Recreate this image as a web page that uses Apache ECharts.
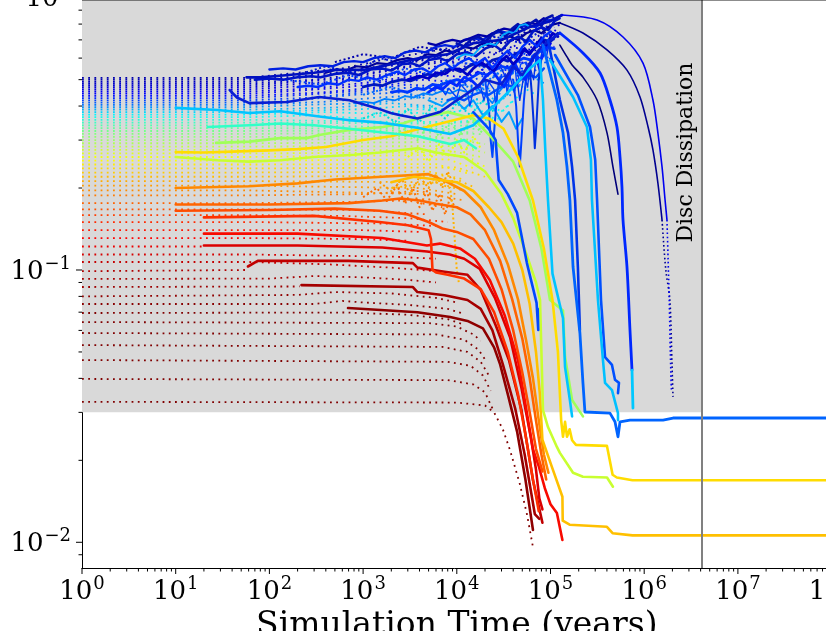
<!DOCTYPE html>
<html>
<head>
<meta charset="utf-8">
<script src="https://cdn.jsdelivr.net/npm/echarts@6.0.0/dist/echarts.min.js"></script>
<style>
html, body { margin: 0; padding: 0; background: #fff; }
#chart { width: 826px; height: 631px; }
</style>
</head>
<body>
<div id="chart"></div>
<script>
// ---- axis / reference values ----
var xMin = 1, xMax = 1e8;
var yMin = 0.008046, yMax = 1;
var discTime = 4.1e6;
var greyFloor = 0.03;
var xMajor = [1, 10, 100, 1e3, 1e4, 1e5, 1e6, 1e7, 1e8];
var yMajor = [0.01, 0.1, 1];
var minorSteps = [2, 3, 4, 5, 6, 7, 8, 9];

// ---- dotted embryo tracks [time, value] ----
var dotLow = [
  [[1,0.0328],[1e4,0.0326],[2e4,0.0318],[2.5e4,0.03],[3.1e4,0.026],[3.7e4,0.0218],[4.7e4,0.0164],[5.6e4,0.0127],[6.5e4,0.0096]],
  [[1,0.0398],[8e3,0.0394],[1.5e4,0.038],[2e4,0.0355],[2.4e4,0.031]],
  [[1,0.0467],[8e3,0.046],[1.4e4,0.0445],[1.9e4,0.041],[2.3e4,0.036]],
  [[1,0.053],[7e3,0.0522],[1.3e4,0.05],[1.8e4,0.046],[2.2e4,0.041]],
  [[1,0.0587],[6e3,0.058],[1.2e4,0.0555],[1.7e4,0.051],[2e4,0.047]],
  [[1,0.0644],[5e3,0.0638],[1e4,0.062],[1.5e4,0.058],[1.8e4,0.055]],
  [[1,0.0695],[650,0.0698],[3e3,0.0685],[8e3,0.066],[1.2e4,0.063]],
  [[1,0.075],[300,0.075],[600,0.077],[1e3,0.076],[3e3,0.0745],[8e3,0.072],[1.2e4,0.069]],
  [[1,0.08],[200,0.081],[500,0.083],[2e3,0.082],[6e3,0.079],[1e4,0.076]],
  [[1,0.0866],[210,0.087]],
  [[1,0.0927],[100,0.093],[300,0.095],[1e3,0.094],[3e3,0.092],[6e3,0.09]],
  [[1,0.099],[55,0.1]]
];
var dotMid = [
  [[1,0.107],[60,0.107],[400,0.105],[2e3,0.102],[6e3,0.099]],
  [[1,0.114],[60,0.114],[2e3,0.112],[6e3,0.11]],
  [[1,0.122],[20,0.122]],
  [[1,0.131],[60,0.131],[800,0.13],[3e3,0.128]],
  [[1,0.14],[60,0.14],[1e3,0.14],[4e3,0.138]],
  [[1,0.15],[60,0.15],[2e3,0.148],[6e3,0.145]],
  [[1,0.159],[60,0.159],[600,0.158],[3e3,0.155],[8e3,0.15]],
  [[1,0.167],[60,0.167],[1e3,0.166],[5e3,0.16]],
  [[1,0.176],[60,0.176],[800,0.178],[3e3,0.18],[7e3,0.17]],
  [[1,0.188],[60,0.188],[1e3,0.19],[4e3,0.195],[8e3,0.185]]
];
var dotHigh = [
  [[1,0.196],[60,0.196],[5e3,0.19],[1.2e4,0.18]],
  [[1,0.204],[60,0.204],[4e3,0.2],[1e4,0.19]],
  [[1,0.212],[60,0.212],[6e3,0.21],[1.2e4,0.195]],
  [[1,0.22],[60,0.22],[8e3,0.222],[1.6e4,0.2]],
  [[1,0.228],[60,0.228],[5e3,0.23],[1.2e4,0.215]],
  [[1,0.236],[60,0.236],[1e4,0.238],[2e4,0.22]],
  [[1,0.244],[60,0.244],[6e3,0.245],[1.4e4,0.225]],
  [[1,0.252],[60,0.252],[8e3,0.255],[1.6e4,0.235]],
  [[1,0.26],[60,0.26],[1e4,0.265],[2e4,0.24]],
  [[1,0.268],[60,0.268],[6e3,0.27],[1.5e4,0.255]],
  [[1,0.276],[60,0.276],[8e3,0.275],[1.8e4,0.26]],
  [[1,0.284],[60,0.284],[1e4,0.285],[2e4,0.27]],
  [[1,0.292],[60,0.292],[6e3,0.295],[1.5e4,0.28]],
  [[1,0.3],[60,0.3],[8e3,0.305],[2e4,0.29]],
  [[1,0.308],[60,0.308],[5e3,0.31],[1.5e4,0.3]],
  [[1,0.316],[60,0.316],[6e3,0.32],[2e4,0.315]],
  [[1,0.324],[60,0.324],[4e3,0.325],[1.5e4,0.32]],
  [[1,0.332],[60,0.332],[5e3,0.33],[2e4,0.33]],
  [[1,0.34],[60,0.34],[3e3,0.335],[1.5e4,0.34]],
  [[1,0.348],[60,0.348],[4e3,0.345],[2e4,0.35]],
  [[1,0.356],[60,0.356],[2e3,0.35],[1e4,0.35],[3e4,0.36]],
  [[1,0.364],[60,0.364],[300,0.37],[1e3,0.36],[3e3,0.38],[8e3,0.37],[1.5e4,0.4],[2.5e4,0.36],[4e4,0.42]],
  [[1,0.372],[60,0.372],[400,0.38],[1.5e3,0.375],[4e3,0.39],[1e4,0.38],[2e4,0.42],[3e4,0.38],[5e4,0.45]],
  [[1,0.38],[60,0.38],[250,0.385],[1e3,0.39],[3e3,0.4],[7e3,0.39],[1.4e4,0.43],[2.6e4,0.4],[4.5e4,0.48],[7e4,0.44]],
  [[1,0.388],[60,0.388],[500,0.395],[2e3,0.41],[5e3,0.4],[1.2e4,0.44],[2.2e4,0.41],[3.5e4,0.5],[6e4,0.46]],
  [[1,0.396],[60,0.396],[300,0.405],[1.2e3,0.41],[4e3,0.43],[1e4,0.42],[2e4,0.47],[3.5e4,0.43],[6e4,0.52],[9e4,0.48]],
  [[1,0.404],[60,0.404],[400,0.415],[1.5e3,0.43],[5e3,0.44],[1.2e4,0.48],[2.5e4,0.45],[4.5e4,0.55],[8e4,0.5]],
  [[1,0.412],[60,0.412],[200,0.42],[800,0.44],[3e3,0.45],[8e3,0.49],[1.8e4,0.47],[3.5e4,0.56],[6e4,0.52],[1e5,0.6]],
  [[1,0.42],[60,0.42],[300,0.43],[1e3,0.45],[3.5e3,0.47],[9e3,0.46],[2e4,0.52],[4e4,0.5],[7e4,0.6],[1.1e5,0.58]],
  [[1,0.428],[60,0.428],[250,0.44],[900,0.455],[3e3,0.48],[7e3,0.47],[1.5e4,0.53],[3e4,0.51],[6e4,0.62],[1e5,0.6]],
  [[1,0.436],[60,0.436],[400,0.45],[1.5e3,0.47],[4e3,0.5],[1e4,0.49],[2.2e4,0.56],[4.5e4,0.53],[8e4,0.66]],
  [[1,0.444],[60,0.444],[200,0.455],[700,0.47],[2.5e3,0.5],[6e3,0.52],[1.4e4,0.51],[3e4,0.6],[6e4,0.57],[1.1e5,0.7]],
  [[1,0.452],[60,0.452],[300,0.465],[1.2e3,0.49],[4e3,0.52],[1e4,0.55],[2e4,0.53],[4e4,0.63],[8e4,0.6],[1.2e5,0.74]],
  [[1,0.46],[60,0.46],[250,0.475],[900,0.5],[3e3,0.53],[7e3,0.52],[1.6e4,0.58],[3.5e4,0.56],[7e4,0.68],[1.1e5,0.66]],
  [[1,0.468],[60,0.468],[400,0.49],[1.5e3,0.52],[5e3,0.55],[1.2e4,0.6],[2.5e4,0.58],[5e4,0.7],[9e4,0.68],[1.25e5,0.8]],
  [[1,0.476],[60,0.476],[200,0.49],[800,0.51],[2.5e3,0.55],[7e3,0.58],[1.6e4,0.57],[3.5e4,0.66],[7e4,0.64],[1.1e5,0.78]],
  [[1,0.484],[60,0.484],[300,0.5],[1.2e3,0.53],[4e3,0.57],[1e4,0.6],[2.2e4,0.63],[4.5e4,0.62],[8e4,0.74],[1.2e5,0.72]],
  [[1,0.492],[60,0.492],[250,0.51],[1e3,0.54],[3.5e3,0.58],[9e3,0.62],[2e4,0.66],[4e4,0.7],[7e4,0.68],[1.1e5,0.82]],
  [[1,0.5],[60,0.5],[150,0.51],[500,0.53],[1.5e3,0.56],[5e3,0.6],[1.2e4,0.64],[2.8e4,0.7],[5e4,0.74],[9e4,0.8]],
  [[1,0.508],[60,0.508],[200,0.53],[600,0.55],[2e3,0.6],[6e3,0.64],[1.5e4,0.68],[3.5e4,0.74],[6e4,0.78],[1.1e5,0.85]]
];

// ---- scattered growth region ----
var chaos1 = [[70,0.5],[100,0.505],[140,0.5],[200,0.51],[280,0.515],[350,0.51],[500,0.525],[700,0.53],[900,0.52],[1.2e3,0.545],[1.6e3,0.55],[2e3,0.54],[2.6e3,0.57],[3.3e3,0.575],[4e3,0.56],[5e3,0.59],[6.5e3,0.6],[8e3,0.585],[1e4,0.62],[1.3e4,0.63],[1.6e4,0.61],[2e4,0.65],[2.5e4,0.67],[3e4,0.64],[3.8e4,0.7],[4.6e4,0.72],[5.5e4,0.69],[6.5e4,0.75],[8e4,0.78],[9.5e4,0.76],[1.1e5,0.82],[1.25e5,0.84]];
var chaos2 = [[200,0.47],[260,0.475],[330,0.47],[420,0.485],[550,0.48],[700,0.5],[900,0.495],[1.1e3,0.51],[1.4e3,0.5],[1.8e3,0.52],[2.3e3,0.535],[2.8e3,0.52],[3.5e3,0.545],[4.3e3,0.55],[5.2e3,0.53],[6.3e3,0.56],[7.5e3,0.575],[9e3,0.55],[1.1e4,0.58],[1.35e4,0.6],[1.6e4,0.57],[2e4,0.6],[2.4e4,0.55],[2.9e4,0.6],[3.5e4,0.64],[4.2e4,0.6],[5e4,0.66],[6e4,0.7],[7.2e4,0.66],[8.5e4,0.72],[1e5,0.75]];
var chaos3 = [[5e3,0.47],[5.8e3,0.455],[6.4e3,0.48],[7.6e3,0.44],[8.2e3,0.465],[1e4,0.43],[1.1e4,0.48],[1.3e4,0.45],[1.38e4,0.4],[1.5e4,0.46],[1.8e4,0.47],[1.95e4,0.42],[2.2e4,0.49],[2.5e4,0.46],[2.62e4,0.39],[2.8e4,0.5],[3.3e4,0.52],[3.45e4,0.44],[3.7e4,0.53],[4.2e4,0.55],[4.4e4,0.47],[4.8e4,0.57],[5.5e4,0.58],[5.8e4,0.5],[6.3e4,0.61],[7.2e4,0.63],[7.6e4,0.55],[8.2e4,0.65],[8.8e4,0.68]];
var chaos4 = [[400,0.53],[520,0.545],[650,0.54],[850,0.56],[1.1e3,0.555],[1.4e3,0.575],[1.8e3,0.57],[2.3e3,0.59],[3e3,0.6],[3.8e3,0.59],[4.8e3,0.62],[6e3,0.615],[7.5e3,0.64],[9.5e3,0.63],[1.2e4,0.66],[1.5e4,0.65],[1.9e4,0.68],[2.4e4,0.66],[3e4,0.7],[3.7e4,0.72],[4.5e4,0.7],[5.5e4,0.74],[6.7e4,0.76],[8e4,0.74],[9.5e4,0.78],[1.1e5,0.8],[1.26e5,0.808]];
var chaos5 = [[800,0.41],[1e3,0.415],[1.3e3,0.41],[1.7e3,0.425],[2.2e3,0.42],[2.8e3,0.435],[3.5e3,0.43],[4.4e3,0.445],[5.5e3,0.44],[7e3,0.455],[8.5e3,0.445],[1.05e4,0.46],[1.3e4,0.45],[1.6e4,0.47],[2e4,0.44],[2.4e4,0.41],[2.8e4,0.45],[3.3e4,0.48]];
var chaos6 = [[1e4,0.6],[1.2e4,0.62],[1.5e4,0.615],[1.8e4,0.66],[2.2e4,0.68],[2.6e4,0.67],[3.1e4,0.73],[3.6e4,0.75],[4.1e4,0.74],[4.7e4,0.79],[5.4e4,0.8],[6e4,0.78]];
var chaos7 = [[100,0.545],[140,0.55],[190,0.545],[260,0.56],[350,0.565],[470,0.56],[620,0.58],[800,0.585],[1e3,0.58],[1.3e3,0.6],[1.7e3,0.61],[2.2e3,0.6],[2.8e3,0.63],[3.6e3,0.64],[4.6e3,0.63],[6e3,0.66],[7.5e3,0.67],[9.5e3,0.66],[1.2e4,0.7],[1.5e4,0.71],[1.9e4,0.7],[2.4e4,0.74],[3e4,0.75],[3.7e4,0.74],[4.6e4,0.78],[5.7e4,0.79],[7e4,0.78],[8.5e4,0.82],[1.05e5,0.83],[1.3e5,0.86]];
var chaos8 = [[3e4,0.55],[3.4e4,0.5],[3.6e4,0.53],[4.1e4,0.45],[4.4e4,0.5],[4.7e4,0.42],[5.2e4,0.52],[5.7e4,0.47],[6e4,0.56],[6.6e4,0.5],[7e4,0.6],[7.7e4,0.53],[8.2e4,0.65],[9e4,0.6],[1e5,0.72]];
var chaos9 = [[3e3,0.5],[4e3,0.515],[5e3,0.505],[6e3,0.53],[7.5e3,0.525],[9e3,0.55],[1.1e4,0.545],[1.3e4,0.52],[1.5e4,0.55],[1.8e4,0.58],[2.1e4,0.56],[2.5e4,0.54],[2.9e4,0.58],[3.4e4,0.61],[4e4,0.57],[4.6e4,0.6],[5.3e4,0.65],[6e4,0.62],[7e4,0.67],[8e4,0.71],[9e4,0.67],[1.05e5,0.74],[1.2e5,0.72]];
var chaos10 = [[5e3,0.45],[6e3,0.47],[7e3,0.46],[8.5e3,0.49],[1e4,0.475],[1.2e4,0.51],[1.45e4,0.495],[1.7e4,0.47],[2e4,0.51],[2.4e4,0.54],[2.8e4,0.5],[3.2e4,0.47],[3.7e4,0.52],[4.2e4,0.57],[4.8e4,0.52],[5.4e4,0.5],[6e4,0.56],[6.8e4,0.62],[7.6e4,0.58],[8.5e4,0.62],[9.5e4,0.68]];
var chaos11 = [[1e4,0.68],[1.2e4,0.66],[1.4e4,0.7],[1.7e4,0.72],[2e4,0.69],[2.4e4,0.73],[2.8e4,0.76],[3.3e4,0.72],[3.9e4,0.77],[4.5e4,0.8],[5.2e4,0.76],[6e4,0.8],[7e4,0.83],[8e4,0.79],[9e4,0.84],[1.05e5,0.86]];
var chaos12 = [[2e4,0.5],[2.2e4,0.4],[2.3e4,0.3],[2.4e4,0.26],[2.5e4,0.32],[2.7e4,0.45],[3e4,0.52]];
var chaos13 = [[4e4,0.5],[4.3e4,0.4],[4.5e4,0.3],[4.7e4,0.24],[4.9e4,0.3],[5.2e4,0.42],[5.6e4,0.55]];
var chaos14 = [[6e4,0.55],[6.3e4,0.45],[6.6e4,0.35],[6.8e4,0.28],[7.1e4,0.35],[7.5e4,0.5],[8e4,0.6]];
var chaos15 = [[5e3,0.42],[7e3,0.4],[9e3,0.43],[1.2e4,0.39],[1.5e4,0.42],[1.9e4,0.37],[2.4e4,0.4],[3e4,0.35],[3.6e4,0.38],[4.3e4,0.33],[5e4,0.36]];
var chaos16 = [[1e3,0.47],[1.3e3,0.48],[1.6e3,0.475],[2e3,0.49],[2.6e3,0.5],[3.2e3,0.495],[4e3,0.51],[5e3,0.525],[6e3,0.515],[7.5e3,0.54],[9e3,0.55],[1.1e4,0.535],[1.35e4,0.56],[1.6e4,0.575],[2e4,0.56],[2.4e4,0.59],[2.9e4,0.6],[3.5e4,0.585],[4.2e4,0.62],[5e4,0.64],[6e4,0.63],[7e4,0.66],[8.5e4,0.7],[1e5,0.69],[1.2e5,0.74]];
var chaos17 = [[2e3,0.45],[2.5e3,0.455],[3e3,0.45],[3.7e3,0.465],[4.5e3,0.46],[5.5e3,0.48],[6.5e3,0.475],[8e3,0.49],[1e4,0.5],[1.2e4,0.49],[1.45e4,0.51],[1.75e4,0.53],[2.1e4,0.52],[2.5e4,0.54],[3e4,0.56],[3.6e4,0.55],[4.3e4,0.58],[5.2e4,0.6],[6.2e4,0.59],[7.5e4,0.63],[9e4,0.66],[1.1e5,0.65]];
var chaos18 = [[5e3,0.68],[6e3,0.67],[7.5e3,0.69],[9e3,0.7],[1.1e4,0.69],[1.4e4,0.71],[1.7e4,0.73],[2.1e4,0.72],[2.6e4,0.75],[3.2e4,0.77],[3.9e4,0.76],[4.8e4,0.79],[5.8e4,0.81],[7e4,0.8],[8.5e4,0.84]];
var chaos19 = [[8e3,0.42],[1e4,0.43],[1.2e4,0.42],[1.5e4,0.44],[1.8e4,0.45],[2.2e4,0.44],[2.7e4,0.46],[3.3e4,0.48],[4e4,0.47],[4.8e4,0.5],[5.8e4,0.52],[7e4,0.51],[8.5e4,0.55]];
var bspk1 = [[200,0.52],[400,0.56],[800,0.53],[1.5e3,0.6],[3e3,0.57],[6e3,0.65],[1.2e4,0.62],[2.5e4,0.72],[5e4,0.68],[1e5,0.8]];
var bspk2 = [[150,0.5],[350,0.48],[700,0.52],[1.4e3,0.49],[2.8e3,0.55],[5.5e3,0.52],[1.1e4,0.58],[2.2e4,0.55],[4.4e4,0.63],[8.8e4,0.6]];
var bspk3 = [[500,0.58],[1e3,0.62],[2e3,0.6],[4e3,0.66],[8e3,0.64],[1.6e4,0.7],[3.2e4,0.68],[6.4e4,0.76]];
var bspk4 = [[1e3,0.44],[2e3,0.47],[4e3,0.43],[8e3,0.5],[1.6e4,0.46],[3.2e4,0.55],[6.4e4,0.5]];
var speck1 = [[1e3,0.36],[1.5e3,0.38],[2.2e3,0.35],[3e3,0.39],[4e3,0.35],[5.5e3,0.4],[7.5e3,0.36],[1e4,0.41],[1.4e4,0.37],[1.9e4,0.42],[2.5e4,0.38]];
var speck2 = [[2e3,0.31],[2.8e3,0.33],[3.8e3,0.3],[5e3,0.34],[6.5e3,0.31],[8.5e3,0.35],[1.1e4,0.31],[1.4e4,0.36],[1.8e4,0.32],[2.3e4,0.37]];
var speck3 = [[3e3,0.26],[4e3,0.28],[5e3,0.25],[6.5e3,0.29],[8e3,0.26],[1e4,0.3],[1.2e4,0.27],[1.5e4,0.31],[1.8e4,0.28]];
var speck4 = [[1e3,0.185],[1.4e3,0.2],[1.8e3,0.18],[2.3e3,0.205],[2.8e3,0.175],[3.4e3,0.2],[4e3,0.17],[4.8e3,0.195],[5.5e3,0.165],[6.5e3,0.19],[7.5e3,0.16],[8.5e3,0.185],[9.5e3,0.17]];
var speck5 = [[1.5e3,0.21],[2e3,0.195],[2.6e3,0.215],[3.2e3,0.19],[4e3,0.22],[5e3,0.2],[6e3,0.225],[7e3,0.2],[8e3,0.23],[9e3,0.21]];
var speck6 = [[2e3,0.2],[6e3,0.21],[8.5e3,0.2],[9e3,0.17],[9.5e3,0.13],[1e4,0.1],[1.05e4,0.09]];

// ---- planets (solid tracks) ----
var s1 = [[37.7,0.458],[45,0.43],[61,0.41],[155,0.414],[340,0.432],[714,0.42],[1.4e3,0.393],[1.97e3,0.377],[2.5e3,0.37],[3.8e3,0.36],[6.6e3,0.38],[1e4,0.42],[1.5e4,0.46],[2e4,0.5],[3e4,0.48],[4e4,0.56],[5e4,0.52],[6.5e4,0.6],[8e4,0.66],[1e5,0.7],[1.26e5,0.742]];
var s2 = [[57,0.51],[80,0.51],[130,0.517],[300,0.53],[500,0.543],[1e3,0.543],[2e3,0.57],[4e3,0.6],[8e3,0.62],[1.5e4,0.68],[3e4,0.7],[6e4,0.78],[1e5,0.82],[1.33e5,0.864]];
var s3 = [[10,0.394],[28,0.387],[61,0.377],[130,0.383],[340,0.366],[714,0.355],[1.63e3,0.347],[3.8e3,0.333],[8.5e3,0.316],[1.5e4,0.34],[2.5e4,0.4],[4e4,0.47],[6e4,0.55],[7.73e4,0.59],[8.31e4,0.421],[8.8e4,0.276],[9.4e4,0.1807],[1.05e5,0.097],[1.36e5,0.0665],[1.43e5,0.044],[1.61e5,0.0333],[1.7e5,0.029]];
var s4 = [[22,0.335],[61,0.34],[130,0.345],[300,0.34],[714,0.33],[1.63e3,0.32],[3.8e3,0.31],[8.5e3,0.29],[1.2e4,0.3],[1.6e4,0.28]];
var s5 = [[27,0.293],[61,0.296],[130,0.305],[250,0.305],[340,0.313],[714,0.327],[1.63e3,0.335],[2.7e3,0.346],[3.8e3,0.36],[8e3,0.38],[1.5e4,0.36],[2.5e4,0.3],[4e4,0.25],[6e4,0.18],[8e4,0.12],[9.88e4,0.0776],[1.36e5,0.071],[1.43e5,0.0479],[1.7e5,0.0333],[2.22e5,0.029]];
var s6 = [[10,0.271],[20,0.27],[40,0.272],[100,0.275],[200,0.278],[400,0.283],[1e3,0.3],[2e3,0.31],[4e3,0.33],[8e3,0.35],[1.5e4,0.37],[2.2e4,0.36],[3.16e4,0.33],[4.5e4,0.26],[6.5e4,0.18],[8.5e4,0.12],[1.05e5,0.0776],[1.2e5,0.05],[1.26e5,0.035],[1.3e5,0.028],[1.36e5,0.0244],[1.43e5,0.0277],[1.5e5,0.0244],[1.6e5,0.026],[1.7e5,0.0237],[1.87e5,0.0228],[4e5,0.0226],[4.6e5,0.0177],[5.1e5,0.0173],[7.5e5,0.0169],[1e8,0.0169]];
var s7 = [[10,0.26],[28,0.253],[61,0.25],[130,0.253],[300,0.26],[800,0.265],[1.5e3,0.27],[3.8e3,0.28],[6e3,0.27],[1.2e4,0.26],[2e4,0.23],[3e4,0.19],[4e4,0.155],[5.5e4,0.115],[7e4,0.09],[7.73e4,0.0776],[8e4,0.05],[8.31e4,0.0306],[9.4e4,0.0265],[1.17e5,0.0224],[1.26e5,0.0213],[1.74e5,0.018],[2.22e5,0.0174],[4.01e5,0.0173],[4.64e5,0.016]];
var s8 = [[10,0.2],[60,0.203],[200,0.208],[500,0.215],[1.6e3,0.22],[5e3,0.225],[8e3,0.21],[1.2e4,0.195],[1.8e4,0.17],[2.5e4,0.14],[3.5e4,0.105],[4.5e4,0.078],[5.5e4,0.055],[6.5e4,0.04],[7.5e4,0.028],[8.5e4,0.021],[9.5e4,0.018]];
var s9 = [[10,0.174],[100,0.174],[700,0.176],[1.6e3,0.18],[2.5e3,0.183],[4e3,0.18],[6e3,0.175],[1e4,0.17],[1.4e4,0.16],[2e4,0.14],[2.9e4,0.108],[3.9e4,0.078],[5e4,0.056],[6e4,0.04],[7e4,0.028],[8e4,0.021],[9e4,0.017]];
var s10 = [[10,0.165],[100,0.166],[500,0.168],[1.5e3,0.165],[3e3,0.16],[5e3,0.15],[7e3,0.142],[1e4,0.138],[1.5e4,0.13],[2.2e4,0.11],[3e4,0.085],[4e4,0.06],[5e4,0.042],[6e4,0.03],[7e4,0.022],[8.2e4,0.0182]];
var s11 = [[20,0.156],[300,0.158],[1.5e3,0.15],[3e3,0.146],[5e3,0.14],[5.3e3,0.13],[5.5e3,0.1],[6e3,0.098],[8e3,0.096],[1.2e4,0.093],[1.8e4,0.085],[2.5e4,0.07],[3.5e4,0.05],[4.5e4,0.035],[5.5e4,0.024],[6.5e4,0.017],[7.5e4,0.013]];
var s12 = [[20,0.136],[200,0.136],[1.6e3,0.131],[4.8e3,0.123],[6.6e3,0.125],[1.08e4,0.12],[1.56e4,0.11],[2.25e4,0.0918],[3.25e4,0.068],[4.5e4,0.0466],[6.5e4,0.022],[7.5e4,0.019],[8.7e4,0.0158],[9.5e4,0.0145],[1e5,0.0138],[1.17e5,0.0128],[1.34e5,0.0102]];
var s13 = [[20,0.123],[200,0.123],[1.6e3,0.121],[4.8e3,0.117],[8.4e3,0.114],[1.2e4,0.11],[1.76e4,0.101],[2.55e4,0.079],[3.7e4,0.0566],[4.9e4,0.0369],[6.2e4,0.024],[7e4,0.0185],[7.6e4,0.0145],[8.2e4,0.0132]];
var s14 = [[59,0.103],[75,0.108],[700,0.108],[3.4e3,0.106],[3.8e3,0.102],[7.4e3,0.0985],[1.3e4,0.096],[1.8e4,0.0846],[2.6e4,0.0627],[3.6e4,0.0467],[4.9e4,0.0306],[6.5e4,0.0169],[8.2e4,0.0118]];
var s15 = [[220,0.088],[3.4e3,0.0866],[3.8e3,0.083],[7.4e3,0.0808],[1.3e4,0.0776],[1.8e4,0.072],[2.4e4,0.06],[3.1e4,0.045],[4.2e4,0.031],[5.3e4,0.021],[6.8e4,0.0127],[7.6e4,0.0122]];
var s16 = [[690,0.0725],[3.8e3,0.07],[8.5e3,0.0672],[1.3e4,0.065],[1.9e4,0.061],[2.5e4,0.052],[2.9e4,0.045],[3.5e4,0.035],[4.4e4,0.0255],[5.4e4,0.017],[6.5e4,0.0111]];
var gold = [[2e3,0.21],[3.5e3,0.22],[6e3,0.215],[1e4,0.21],[1.5e4,0.195],[2.2e4,0.17],[3e4,0.15],[4e4,0.125],[5e4,0.1],[6e4,0.075],[7e4,0.05],[7.7e4,0.035],[8.2e4,0.0238],[1.03e5,0.019],[1.34e5,0.0147],[1.35e5,0.012],[1.6e5,0.0116],[4e5,0.0114],[4.6e5,0.0108],[7.5e5,0.0106],[1e8,0.0106]];
var hook = [[1.5e4,0.38],[2.2e4,0.33],[2.6e4,0.3],[2.7e4,0.25],[2.8e4,0.214],[3.5e4,0.19],[4.4e4,0.162],[5.6e4,0.106],[7.1e4,0.0757],[7.4e4,0.0602],[7.3e4,0.072]];
var fan1 = [[1.26e5,0.808],[2.22e5,0.742],[4.01e5,0.643],[6.55e5,0.542],[9.02e5,0.432],[1.1e6,0.335],[1.24e6,0.276],[1.4e6,0.2087],[1.55e6,0.1527]];
var fan1Tail = [[1.55e6,0.1527],[1.7e6,0.1],[1.88e6,0.0776],[1.98e6,0.045],[2.03e6,0.0342]];
var fan2 = [[1.33e5,0.864],[3.14e5,0.828],[5.94e5,0.717],[9.71e5,0.575],[1.24e6,0.421],[1.4e6,0.319],[1.55e6,0.239],[1.67e6,0.1807],[1.75e6,0.1527]];
var fan2Tail = [[1.75e6,0.1527],[1.8e6,0.1088],[1.85e6,0.0776],[1.9e6,0.05],[1.95e6,0.036]];
var fan3 = [[1.26e5,0.742],[2.22e5,0.627],[3.38e5,0.529],[4.31e5,0.421],[5.12e5,0.335],[5.52e5,0.26],[5.79e5,0.202],[5.94e5,0.1527],[6.55e5,0.1026],[7.05e5,0.0602],[7.41e5,0.0429]];
var fan3Tail = [[7.41e5,0.0429],[7.59e5,0.0311]];
var fan4 = [[1.26e5,0.67],[1.5e5,0.606],[1.7e5,0.566],[2.22e5,0.511],[3.14e5,0.421],[4.01e5,0.319],[4.64e5,0.239],[5.25e5,0.19]];
var fan5 = [[9.88e4,0.59],[1.74e5,0.432],[2.45e5,0.335],[2.7e5,0.254],[2.77e5,0.1807],[3.21e5,0.0776],[3.63e5,0.0467],[3.82e5,0.0385],[4.53e5,0.0362],[5.25e5,0.0298],[5.25e5,0.0281]];
var fan6 = [[1.12e5,0.616],[1.96e5,0.439],[2.64e5,0.335],[3e5,0.254],[3.14e5,0.1807],[3.46e5,0.0776],[3.82e5,0.0479],[4.53e5,0.0448],[4.88e5,0.0395],[5.38e5,0.0385],[5.25e5,0.0353]];
var fan7 = [[9.4e4,0.699],[1.26e5,0.421],[1.54e5,0.319],[1.7e5,0.239],[1.83e5,0.1807],[1.96e5,0.1026],[2.06e5,0.0602]];
var blueSurvivor = [[8.31e4,0.67],[1.17e5,0.421],[1.36e5,0.319],[1.5e5,0.239],[1.61e5,0.1807],[1.74e5,0.1026],[2.06e5,0.0587],[2.22e5,0.0385],[2.33e5,0.0301],[4.31e5,0.0298],[4.88e5,0.0277],[5.25e5,0.0244],[5.52e5,0.0277],[7.05e5,0.0281],[1.59e6,0.0281],[2.03e6,0.0286],[1e8,0.0286]];

// ---- colour helpers (jet colormap) ----
var colorStops = [[0.07,1],[0.1,0.95],[0.13,0.875],[0.19,0.75],[0.25,0.63],[0.3,0.53],[0.33,0.48],[0.37,0.375],[0.4,0.25],[0.44,0.125],[0.51,0.04]];
function jet(t) {
  function c(v) { return Math.max(0, Math.min(1, v)); }
  var r = c(1.5 - Math.abs(4 * t - 3)), g = c(1.5 - Math.abs(4 * t - 2)), b = c(1.5 - Math.abs(4 * t - 1));
  return 'rgb(' + Math.round(r * 255) + ',' + Math.round(g * 255) + ',' + Math.round(b * 255) + ')';
}
function rowColor(y0) {
  if (y0 <= colorStops[0][0]) return jet(1);
  for (var i = 1; i < colorStops.length; i++) {
    if (y0 <= colorStops[i][0]) {
      var a = colorStops[i - 1], b = colorStops[i];
      return jet(a[1] + (b[1] - a[1]) * (y0 - a[0]) / (b[0] - a[0]));
    }
  }
  return jet(colorStops[colorStops.length - 1][1]);
}

var serif = 'DejaVu Serif';
var dotDash = [1.8, 4.4];

function track(data, color, width, dash, z, smooth) {
  return {
    type: 'line', data: data, symbol: 'none', silent: true, z: z || 2,
    smooth: smooth || false,
    lineStyle: { color: color, width: width, type: dash || 'solid', cap: dash ? 'butt' : 'round', join: 'round' }
  };
}

var series = [];
// grey region before disc dissipation
series.push({
  type: 'line', data: [[1, greyFloor]], symbol: 'none', silent: true, z: 0,
  lineStyle: { opacity: 0 },
  markArea: { silent: true, itemStyle: { color: '#d9d9d9' }, data: [[{ coord: [xMin, greyFloor] }, { coord: [discTime, yMax] }]] }
});

dotLow.concat(dotMid, dotHigh).forEach(function (t) {
  series.push(track(t, rowColor(t[0][1]), 1.8, dotDash, 2));
});

[[speck1,'#00dcd8'],[speck2,'#80ff70'],[speck3,'#e8ff10'],[speck4,'#ff6e00'],[speck5,'#ff9c00'],[speck6,'#ffb400'],
 [bspk1,'#0018d8'],[bspk2,'#0040ff'],[bspk3,'#0000b0'],[bspk4,'#0070ff']].forEach(function (p) {
  series.push(track(p[0], p[1], 2, [2, 2.5], 3));
});
[[chaos15,'#00a0ff',2],[chaos5,'#0080ff',1.8],[chaos19,'#0050ff',2.4],[chaos3,'#0040ff',1.4],[chaos8,'#0030f0',1.4],
 [chaos12,'#0048ff',2],[chaos13,'#0040ff',2],[chaos14,'#0030e0',2],
 [chaos17,'#0038ff',2.8],[chaos16,'#0018c0',2.8],[chaos10,'#0028ff',2.8],[chaos9,'#0000c8',2.8],[chaos2,'#0030ff',2.4],[chaos4,'#00009a',2.2],
 [chaos1,'#0014c8',2.6],[chaos7,'#0020e0',2.4],[chaos18,'#0000a8',2.4],[chaos11,'#0010b0',2.6],[chaos6,'#00a8ff',1.8]].forEach(function (p) {
  series.push(track(p[0], p[1], p[2], null, 3));
});

var planets = [
  [s16,'#8e0000',2.6],[s15,'#a50000',2.6],[s14,'#c00000',2.6],[s13,'#dc0000',2.6],[s12,'#f80a00',2.6],
  [s11,'#ff3000',2.6],[s10,'#ff4c00',2.6],[s9,'#ff6400',2.6],[s8,'#ff8800',2.6],[gold,'#ffc000',2.6],
  [s7,'#c8ff30',2.6],[s5,'#a0ff58',2.6],[s6,'#ffdc00',2.6],[s4,'#30ffc8',2.6],[s3,'#00c4ff',2.6],
  [hook,'#0048ff',2.6],[s1,'#0a1ed2',2.6],[s2,'#0010c0',2.6],
  [fan7,'#0034e8',2.6],[blueSurvivor,'#0064ff',2.8],[fan6,'#0050ff',2.6],[fan5,'#00c0ff',2.6]
];
planets.forEach(function (p) { series.push(track(p[0], p[1], p[2], null, 4)); });
[[fan3,'#0028ff',2.8],[fan4,'#00007a',1.6],[fan1,'#000090',1.6],[fan2,'#0000f0',1.6]].forEach(function (p) {
  series.push(track(p[0], p[1], p[2], null, 4, 0.3));
});
series.push(track(fan3Tail, '#00c8ff', 2.8, null, 4));
series.push(track(fan1Tail, '#000090', 1.6, [1.6, 2.6], 4, 0.3));
series.push(track(fan2Tail, '#0000f0', 1.6, [1.6, 2.6], 4, 0.3));

// disc dissipation line
series.push({
  type: 'line', data: [[discTime, greyFloor]], symbol: 'none', silent: true, z: 6,
  lineStyle: { opacity: 0 },
  markLine: { silent: true, symbol: 'none', label: { show: false }, animation: false,
    lineStyle: { color: '#808080', width: 2, type: 'solid' }, data: [{ xAxis: discTime }] }
});

// tick marks (major + minor), placed through the axes
var xTicks = [], yTicks = [];
xMajor.forEach(function (v) { xTicks.push([v, yMin, 6]); });
xMajor.slice(0, 8).forEach(function (d) { minorSteps.forEach(function (m) { xTicks.push([m * d, yMin, 3.5]); }); });
yMajor.forEach(function (v) { yTicks.push([xMin, v, 6]); });
[0.001, 0.01, 0.1].forEach(function (d) {
  minorSteps.forEach(function (m) { var v = m * d; if (v > yMin && v < yMax) yTicks.push([xMin, v, 3.5]); });
});
function tickRender(horizontal) {
  return function (params, api) {
    var p = api.coord([api.value(0), api.value(1)]);
    var len = api.value(2);
    var shape = horizontal
      ? { x1: p[0], y1: p[1], x2: p[0], y2: p[1] + len }
      : { x1: p[0], y1: p[1], x2: p[0] - len, y2: p[1] };
    return { type: 'line', shape: shape, style: { stroke: '#000', lineWidth: 1 } };
  };
}
series.push({ type: 'custom', data: xTicks, renderItem: tickRender(true), clip: false, silent: true, z: 10 });
series.push({ type: 'custom', data: yTicks, renderItem: tickRender(false), clip: false, silent: true, z: 10 });

function powLabel(v) {
  var l = Math.log(v) / Math.LN10, e = Math.round(l);
  if (Math.abs(l - e) > 1e-6) return '';
  return '{b|10}{s|' + (e < 0 ? '\u2212' + (-e) : e) + '}';
}
var labelRich = {
  b: { fontFamily: serif, fontSize: 26, color: '#000', lineHeight: 30, verticalAlign: 'bottom' },
  s: { fontFamily: serif, fontSize: 18, color: '#000', lineHeight: 18, verticalAlign: 'top', padding: [0, 0, 0, 1] }
};

var chart = echarts.init(document.getElementById('chart'));
var option = {
  animation: false,
  backgroundColor: '#fff',
  textStyle: { fontFamily: serif },
  grid: { left: 82, top: -2.3, width: 749.6, height: 570.3, containLabel: false, outerBoundsMode: 'none' },
  xAxis: {
    type: 'log', logBase: 10, min: xMin, max: xMax,
    name: 'Simulation Time (years)', nameLocation: 'middle', nameGap: 42,
    nameTextStyle: { fontFamily: serif, fontSize: 33, color: '#000' },
    axisLine: { show: true, lineStyle: { color: '#000', width: 1 } },
    axisTick: { show: false }, splitLine: { show: false }, minorTick: { show: false },
    axisLabel: { formatter: powLabel, rich: labelRich, margin: 7, hideOverlap: false }
  },
  yAxis: {
    type: 'log', logBase: 10, min: yMin, max: yMax,
    axisLine: { show: true, lineStyle: { color: '#000', width: 1 } },
    axisTick: { show: false }, splitLine: { show: false }, minorTick: { show: false },
    axisLabel: { formatter: powLabel, rich: labelRich, margin: 11, showMinLabel: false }
  },
  series: series
};
chart.setOption(option);

var tp = chart.convertToPixel({ gridIndex: 0 }, [discTime, 0.27]);
chart.setOption({
  graphic: [
    { type: 'line', silent: true, z: 20, shape: { x1: 82, y1: 0.5, x2: 826, y2: 0.5 }, style: { stroke: '#000', lineWidth: 1, opacity: 0.45 } },
    { type: 'text', silent: true, z: 20, x: tp[0] - 15.5, y: tp[1], rotation: Math.PI / 2,
      style: { text: 'Disc Dissipation', fontFamily: serif, fontSize: 22, fill: '#000', align: 'center', verticalAlign: 'middle' } }
  ]
});
window.addEventListener('resize', function () { chart.resize(); });
</script>
</body>
</html>
